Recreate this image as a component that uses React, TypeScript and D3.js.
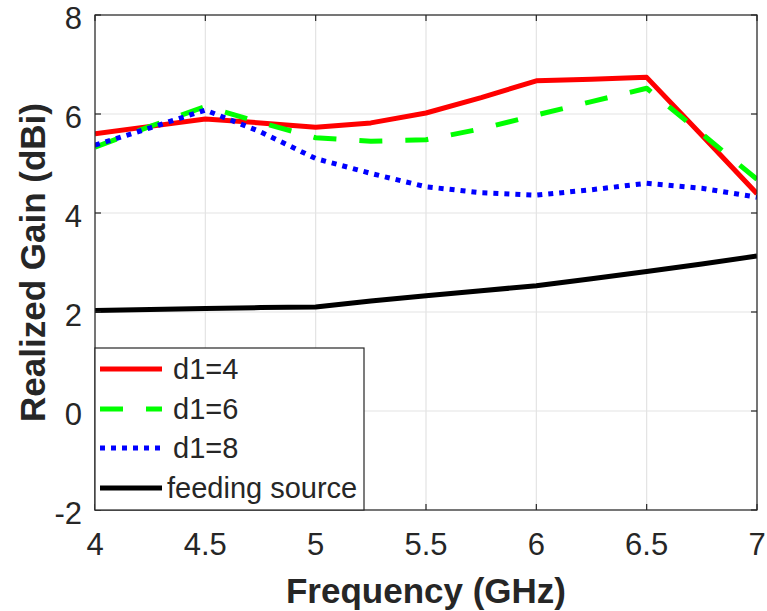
import React from "react";
import * as d3 from "d3";

const freq = [4, 4.25, 4.5, 4.75, 5, 5.25, 5.5, 5.75, 6, 6.25, 6.5, 6.75, 7];
const d1_4 = [5.6, 5.75, 5.9, 5.82, 5.73, 5.82, 6.02, 6.33, 6.67, 6.7, 6.74, 5.57, 4.39];
const d1_6 = [5.33, 5.75, 6.15, 5.83, 5.52, 5.45, 5.48, 5.7, 5.98, 6.25, 6.52, 5.6, 4.68];
const d1_8 = [5.37, 5.72, 6.08, 5.64, 5.1, 4.8, 4.53, 4.41, 4.36, 4.47, 4.6, 4.5, 4.32];
const feeding = [2.03, 2.05, 2.07, 2.09, 2.1, 2.22, 2.33, 2.43, 2.53, 2.67, 2.82, 2.97, 3.13];
const xTicks = [4, 4.5, 5, 5.5, 6, 6.5, 7];
const yTicks = [-2, 0, 2, 4, 6, 8];
const seriesNames = ["d1=4", "d1=6", "d1=8", "feeding source"];

const W = 767, H = 611;
const L = 95, R = 757, T = 15, B = 510;
const FONT = "'Liberation Sans', Arial, Helvetica, sans-serif";
const TXT = "#262626";

export default function App() {
  const x = d3.scaleLinear().domain([4, 7]).range([L, R]);
  const y = d3.scaleLinear().domain([-2, 8]).range([B, T]);
  const line = d3.line<number>().x((_, i) => x(freq[i])).y((d) => y(d));

  const series = [
    { name: seriesNames[0], data: d1_4, color: "#ff0000", dash: undefined as string | undefined },
    { name: seriesNames[1], data: d1_6, color: "#00ff00", dash: "23 23" },
    { name: seriesNames[2], data: d1_8, color: "#0000ff", dash: "5 6" },
    { name: seriesNames[3], data: feeding, color: "#000000", dash: undefined },
  ];

  const legX0 = 95, legX1 = 364, legY0 = 348, legY1 = B;
  const rowY = [369, 409, 448, 488];

  return (
    <svg width={W} height={H} style={{ position: "absolute", left: 0, top: 0, background: "#fff" }} fontFamily={FONT}>
      <rect x={0} y={0} width={W} height={H} fill="#fff" />
      {xTicks.map((t) => (
        <line key={"gx" + t} x1={x(t)} x2={x(t)} y1={T} y2={B} stroke="#e3e3e3" strokeWidth={1.2} />
      ))}
      {yTicks.map((t) => (
        <line key={"gy" + t} x1={L} x2={R} y1={y(t)} y2={y(t)} stroke="#e3e3e3" strokeWidth={1.2} />
      ))}
      <defs>
        <clipPath id="clip">
          <rect x={L} y={T} width={R - L} height={B - T} />
        </clipPath>
      </defs>
      <g clipPath="url(#clip)">
        {series.map((s) => (
          <path key={s.name} d={line(s.data) || ""} fill="none" stroke={s.color} strokeWidth={5}
            strokeDasharray={s.dash} strokeLinejoin="round" />
        ))}
      </g>
      <rect x={L} y={T} width={R - L} height={B - T} fill="none" stroke={TXT} strokeWidth={1.2} />
      {xTicks.map((t) => (
        <g key={"tx" + t}>
          <line x1={x(t)} x2={x(t)} y1={B} y2={B - 6} stroke={TXT} strokeWidth={1.2} />
          <line x1={x(t)} x2={x(t)} y1={T} y2={T + 6} stroke={TXT} strokeWidth={1.2} />
          <text x={x(t)} y={555} textAnchor="middle" fontSize={31} fill={TXT}>{String(t)}</text>
        </g>
      ))}
      {yTicks.map((t) => (
        <g key={"ty" + t}>
          <line x1={L} x2={L + 6} y1={y(t)} y2={y(t)} stroke={TXT} strokeWidth={1.2} />
          <line x1={R} x2={R - 6} y1={y(t)} y2={y(t)} stroke={TXT} strokeWidth={1.2} />
          <text x={82} y={y(t) + 14} textAnchor="end" fontSize={31} fill={TXT}>{String(t)}</text>
        </g>
      ))}
      <text x={(L + R) / 2} y={603} textAnchor="middle" fontSize={35} fontWeight="bold" fill={TXT}>Frequency (GHz)</text>
      <text transform={`translate(45, ${(T + B) / 2}) rotate(-90)`} textAnchor="middle" fontSize={35} fontWeight="bold" fill={TXT}>Realized Gain (dBi)</text>
      <rect x={legX0} y={legY0} width={legX1 - legX0} height={legY1 - legY0} fill="#fff" stroke={TXT} strokeWidth={1.2} />
      {series.map((s, i) => (
        <g key={"lg" + s.name}>
          <line x1={100} x2={162} y1={rowY[i]} y2={rowY[i]} stroke={s.color} strokeWidth={5} strokeDasharray={s.dash} />
          <text x={i === 3 ? 167 : 173} y={rowY[i] + 10} fontSize={29} fill={TXT}>{s.name}</text>
        </g>
      ))}
    </svg>
  );
}
